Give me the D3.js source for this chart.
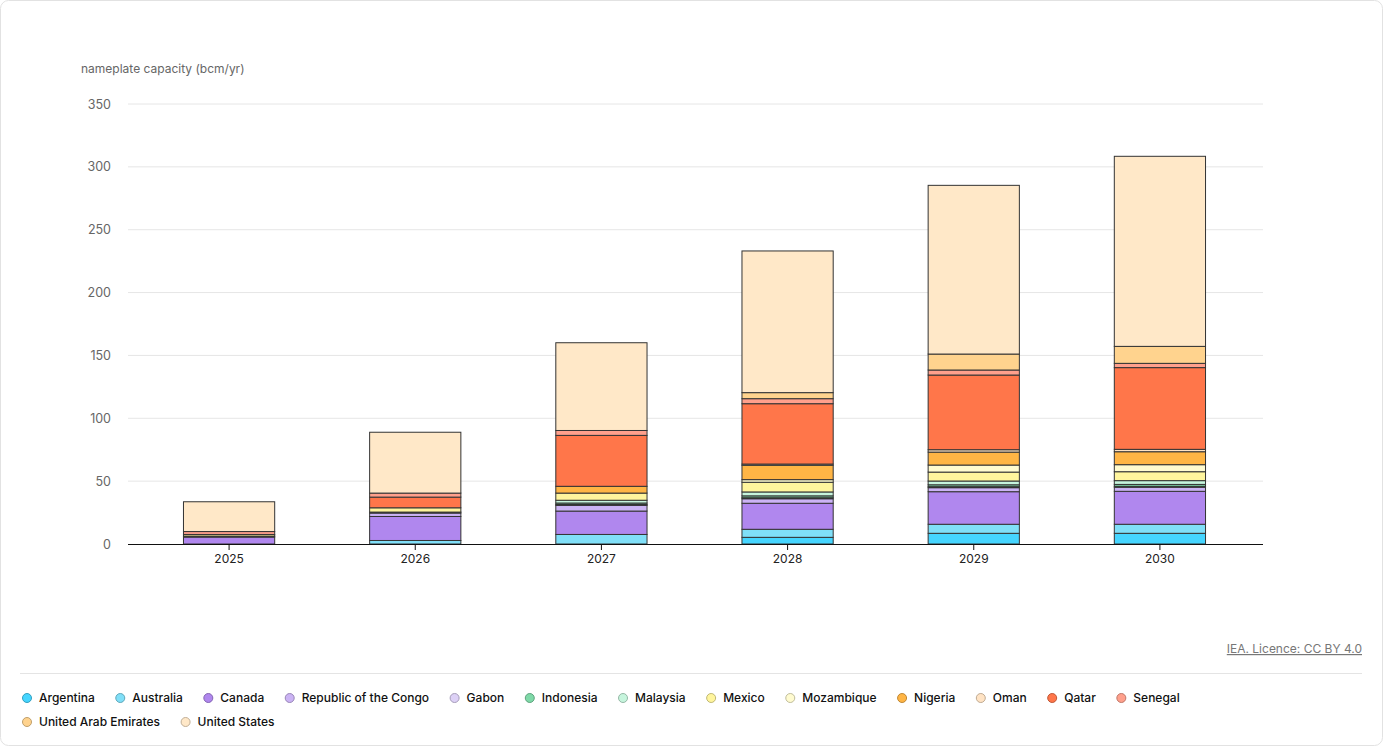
<!DOCTYPE html>
<html>
<head>
<meta charset="utf-8">
<script src="https://cdn.jsdelivr.net/npm/d3@7"></script>
<style>
  body { margin: 0; background: #fff; font-family: Inter, "Noto Sans", sans-serif; }
  svg { display: block; }
</style>
</head>
<body>
<main></main>
<script>
const years = ["2025", "2026", "2027", "2028", "2029", "2030"];
const countries = ["Argentina", "Australia", "Canada", "Republic of the Congo", "Gabon", "Indonesia",
    "Malaysia", "Mexico", "Mozambique", "Nigeria", "Oman", "Qatar", "Senegal",
    "United Arab Emirates", "United States"];
const colors = ["#45d5ff", "#80dff8", "#b087ee", "#cbb3f4", "#ddd1f6", "#7fd9a8",
    "#c6f5dd", "#fff59d", "#fffbd0", "#ffb545", "#ffe3c4", "#ff764a", "#ffa08c",
    "#ffd38e", "#ffe8c8"];

// bcm/yr, one value per year
const argentina = [0, 0, 0, 5.3, 8.5, 8.5];
const australia = [0, 2.8, 7.6, 6.4, 7.2, 7.2];
const canada = [5.5, 19.1, 18.6, 20.7, 25.9, 26.2];
const congo = [0.8, 2.7, 4.5, 3.6, 3.2, 3.2];
const gabon = [0, 0.8, 0.7, 0.8, 0.8, 0.8];
const indonesia = [0, 0, 1.2, 1.5, 1.5, 1.5];
const malaysia = [0, 0, 2.2, 3.1, 3.0, 3.0];
const mexico = [1.3, 3.4, 5.7, 7.7, 7.1, 7.1];
const mozambique = [0, 0, 0, 2.1, 5.6, 5.6];
const nigeria = [0, 0, 5.4, 11.4, 10.3, 10.3];
const oman = [0, 0, 0, 1.0, 1.9, 1.9];
const qatar = [0, 8.5, 40.5, 48.0, 59.4, 65.0];
const senegal = [2.3, 3.2, 3.9, 4.0, 4.0, 3.4];
const uae = [0, 0, 0, 4.8, 12.7, 13.5];
const unitedStates = [23.7, 48.4, 69.8, 112.7, 134.2, 151.2];

const yTicks = [0, 50, 100, 150, 200, 250, 300, 350];

const series = [argentina, australia, canada, congo, gabon, indonesia, malaysia, mexico,
    mozambique, nigeria, oman, qatar, senegal, uae, unitedStates];

const table = years.map((y, i) => {
    const row = {year: y};
    countries.forEach((c, j) => { row[c] = series[j][i]; });
    return row;
});

const W = 1387, H = 748;

const svg = d3.select("main").append("svg")
    .attr("width", W)
    .attr("height", H);

// card
svg.append("rect")
    .attr("x", 0.5).attr("y", 0.5)
    .attr("width", W - 5).attr("height", H - 3)
    .attr("rx", 8)
    .attr("fill", "#fff")
    .attr("stroke", "#e2e2e2");

const xScale = d3.scaleBand()
    .domain(years)
    .range([136, 1253])
    .paddingInner(0.51)
    .paddingOuter(0.255);

const yScale = d3.scaleLinear().domain([0, 350]).range([544, 104]);

// grid
svg.append("g")
    .selectAll("line")
    .data(yTicks.slice(1))
    .enter()
    .append("line")
    .attr("x1", 128).attr("x2", 1263)
    .attr("y1", d => yScale(d)).attr("y2", d => yScale(d))
    .attr("stroke", "#e6e6e6")
    .attr("stroke-width", 1);

const yAxis = d3.axisLeft(yScale).tickValues(yTicks).tickSize(0).tickPadding(0);
svg.append("g")
    .attr("transform", "translate(111,0)")
    .call(yAxis)
    .call(g => g.select(".domain").remove())
    .selectAll("text")
    .attr("fill", "#666")
    .attr("font-size", 12.5)
    .attr("font-family", "Inter, sans-serif");

svg.append("text")
    .attr("x", 81).attr("y", 73)
    .attr("fill", "#666")
    .attr("font-size", 12)
    .text("nameplate capacity (bcm/yr)");

const stack = d3.stack().keys(countries);
const stacked = stack(table);

svg.append("g")
    .selectAll("g")
    .data(stacked)
    .enter()
    .append("g")
    .attr("fill", (d, i) => colors[i])
    .selectAll("rect")
    .data(d => d.filter(p => p[1] - p[0] > 0))
    .enter()
    .append("rect")
    .attr("x", d => xScale(d.data.year))
    .attr("width", xScale.bandwidth())
    .attr("y", d => yScale(d[1]))
    .attr("height", d => yScale(d[0]) - yScale(d[1]))
    .attr("stroke", "#333")
    .attr("stroke-width", 1);

const xAxis = d3.axisBottom(xScale).tickSize(6).tickPadding(4);
svg.append("g")
    .attr("transform", "translate(0,544)")
    .call(xAxis)
    .call(g => g.select(".domain").attr("d", "M128,0.5H1263").attr("stroke", "#111"))
    .call(g => g.selectAll(".tick line").attr("stroke", "#111"))
    .selectAll("text")
    .attr("fill", "#222")
    .attr("font-size", 12)
    .attr("font-family", "Inter, sans-serif");

// source
svg.append("text")
    .attr("x", 1362).attr("y", 653)
    .attr("text-anchor", "end")
    .attr("fill", "#777")
    .attr("font-size", 12)
    .attr("text-decoration", "underline")
    .text("IEA. Licence: CC BY 4.0");

svg.append("line")
    .attr("x1", 20).attr("x2", 1362)
    .attr("y1", 673.5).attr("y2", 673.5)
    .attr("stroke", "#e4e4e4");

// legend
const legend = svg.append("g");
let lx = 27, ly = 698;
countries.forEach((c, i) => {
    const item = legend.append("g");
    item.append("circle")
        .attr("r", 4.5)
        .attr("fill", colors[i])
        .attr("stroke", d3.color(colors[i]).darker(0.8))
        .attr("stroke-width", 1);
    const t = item.append("text")
        .attr("x", 12).attr("y", 4)
        .attr("font-size", 12)
        .attr("font-weight", 500)
        .attr("fill", "#111")
        .text(c);
    const w = 12 + t.node().getComputedTextLength() + 25.5;
    if (lx + w > 1290) { lx = 27; ly += 24; }
    item.attr("transform", "translate(" + lx + "," + ly + ")");
    lx += w;
});
</script>
</body>
</html>
